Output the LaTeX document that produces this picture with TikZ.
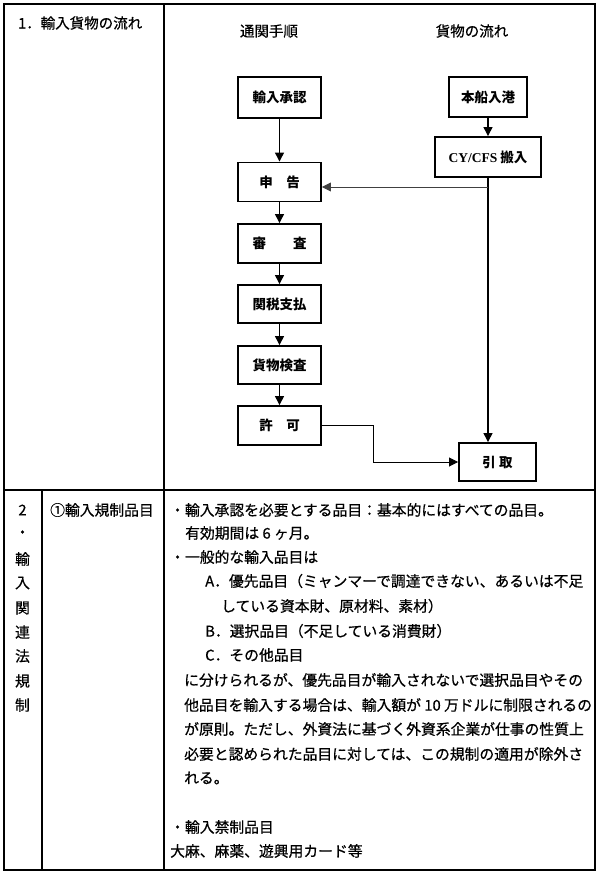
\documentclass[tikz,border=0pt]{standalone}
\usepackage{fontspec}
\newfontfamily\jp{Noto Sans CJK JP}
\newfontfamily\jpm[FakeBold=0.6]{Noto Sans CJK JP}
\newfontfamily\tms{Liberation Serif}
\usetikzlibrary{arrows.meta}
\begin{document}
\begin{tikzpicture}[x=1pt,y=-1pt,
  rule/.style={line width=1.3pt},
  outer/.style={line width=1.8pt},
  flowbox/.style={draw, line width=1.9pt, minimum width=83pt, minimum height=39pt, inner sep=0pt,
    font={\jp\bfseries\fontsize{13.5}{15}\selectfont}},
  body/.style={anchor=west, inner sep=0pt, font={\jpm\fontsize{14.8}{16}\selectfont}},
  sidechar/.style={inner sep=0pt, font={\jpm\fontsize{14.8}{16}\selectfont}},
  headtext/.style={inner sep=0pt, font={\jpm\fontsize{14.5}{16}\selectfont}},
  flowarrow/.style={line width=1.3pt, -{Triangle[length=9pt,width=9pt]}},
  thinarrow/.style={line width=0.8pt, -{Triangle[length=9pt,width=9pt]}}]
\useasboundingbox (0,0) rectangle (600,874);
\fill[white] (0,0) rectangle (600,874);
% table frame
\draw[outer] (4,4) rectangle (595,870);
\draw[rule] (164,4) -- (164,870);
\draw[rule] (4,490) -- (595,490);
\draw[rule] (42,490) -- (42,870);
% section 1
\node[headtext, anchor=west] (t1) at (18,23) {1．輸入貨物の流れ};
\node[headtext] (h1) at (269,31) {通関手順};
\node[headtext] (h2) at (472,31) {貨物の流れ};
\node[flowbox, minimum height=41pt] (shonin) at (279.5,97.5) {輸入承認};
\node[flowbox, minimum width=78pt, minimum height=40pt] (nyuko) at (488,97) {本船入港};
\node[flowbox, minimum width=106pt, minimum height=40pt] (cy) at (488,157) {{\tms\bfseries CY/CFS} 搬入};
\node[flowbox] (shinkoku) at (279.5,182) {申　告};
\node[flowbox] (shinsa) at (279.5,243.5) {審　　査};
\node[flowbox, minimum height=38pt] (kanzei) at (279.5,304) {関税支払};
\node[flowbox, minimum height=38pt] (kamotsu) at (279.5,365) {貨物検査};
\node[flowbox] (kyoka) at (279.5,425.5) {許　可};
\node[flowbox, minimum width=77pt, minimum height=38pt] (hikitori) at (497.5,462) {引 取};
\draw[flowarrow] (shonin) -- (shinkoku);
\draw[flowarrow] (shinkoku) -- (shinsa);
\draw[flowarrow] (shinsa) -- (kanzei);
\draw[flowarrow] (kanzei) -- (kamotsu);
\draw[flowarrow] (kamotsu) -- (kyoka);
\draw[flowarrow] (nyuko) -- (cy);
\draw[flowarrow] (cy.south) -- (cy.south |- hikitori.north);
\coordinate (branch) at (488,187);
\draw[thinarrow, draw=black!75] (branch) -- (shinkoku.east |- branch);
\draw[thinarrow] (kyoka.east) -- ++(51,0) |- (hikitori.west);
% section 2
\node[sidechar] (s0) at (22.5,510) {2};
\node[sidechar] (s1) at (22.5,534) {・};
\node[sidechar] (s2) at (22.5,559) {輸};
\node[sidechar] (s3) at (22.5,583) {入};
\node[sidechar] (s4) at (22.5,608) {関};
\node[sidechar] (s5) at (22.5,632) {連};
\node[sidechar] (s6) at (22.5,656) {法};
\node[sidechar] (s7) at (22.5,681) {規};
\node[sidechar] (s8) at (22.5,705) {制};
\node[body] (sub) at (50,510) {①輸入規制品目};
\node[body] (l0) at (170,510) {・輸入承認を必要とする品目：基本的にはすべての品目。};
\node[body] (l1) at (185,533) {有効期間は 6 ヶ月。};
\node[body] (l2) at (170,557) {・一般的な輸入品目は};
\node[body] (l3) at (205,581) {A．優先品目（ミャンマーで調達できない、あるいは不足};
\node[body] (l4) at (221,606) {している資本財、原材料、素材）};
\node[body] (l5) at (205,631) {B．選択品目（不足している消費財）};
\node[body] (l6) at (205,655) {C．その他品目};
\node[body] (l7) at (184,680) {に分けられるが、優先品目が輸入されないで選択品目やその};
\node[body] (l8) at (184,705) {他品目を輸入する場合は、輸入額が 10 万ドルに制限されるの};
\node[body] (l9) at (184,729) {が原則。ただし、外資法に基づく外資系企業が仕事の性質上};
\node[body] (l10) at (184,754) {必要と認められた品目に対しては、この規制の適用が除外さ};
\node[body] (l11) at (184,778) {れる。};
\node[body] (l12) at (170,827) {・輸入禁制品目};
\node[body] (l13) at (170,851) {大麻、麻薬、遊興用カード等};
\end{tikzpicture}
\end{document}
